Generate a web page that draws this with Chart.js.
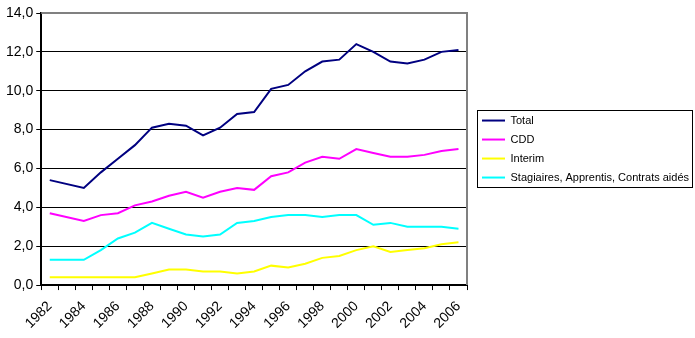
<!DOCTYPE html>
<html>
<head>
<meta charset="utf-8">
<script src="https://cdn.jsdelivr.net/npm/chart.js@4.4.1/dist/chart.umd.min.js"></script>
<style>
    html, body { margin: 0; padding: 0; background: #fff; }
    #wrap { width: 695px; height: 338px; }
</style>
</head>
<body>
<div id="wrap"><canvas id="chart"></canvas></div>
<script>
    "use strict";

    var years = ["1982", "1983", "1984", "1985", "1986", "1987", "1988", "1989", "1990",
        "1991", "1992", "1993", "1994", "1995", "1996", "1997", "1998", "1999", "2000",
        "2001", "2002", "2003", "2004", "2005", "2006"];

    // 1983 : pas de donnée, la courbe relie 1982 et 1984
    var total = [5.4, null, 5.0, 5.8, 6.5, 7.2, 8.1, 8.3, 8.2, 7.7, 8.1, 8.8, 8.9,
        10.1, 10.3, 11.0, 11.5, 11.6, 12.4, 12.0, 11.5, 11.4, 11.6, 12.0, 12.1];
    var cdd = [3.7, null, 3.3, 3.6, 3.7, 4.1, 4.3, 4.6, 4.8, 4.5, 4.8, 5.0, 4.9,
        5.6, 5.8, 6.3, 6.6, 6.5, 7.0, 6.8, 6.6, 6.6, 6.7, 6.9, 7.0];
    var interim = [0.4, null, 0.4, 0.4, 0.4, 0.4, 0.6, 0.8, 0.8, 0.7, 0.7, 0.6, 0.7,
        1.0, 0.9, 1.1, 1.4, 1.5, 1.8, 2.0, 1.7, 1.8, 1.9, 2.1, 2.2];
    var stagiaires = [1.3, null, 1.3, 1.8, 2.4, 2.7, 3.2, 2.9, 2.6, 2.5, 2.6, 3.2, 3.3,
        3.5, 3.6, 3.6, 3.5, 3.6, 3.6, 3.1, 3.2, 3.0, 3.0, 3.0, 2.9];

    var yTicks = [0, 2, 4, 6, 8, 10, 12, 14];

    var fontFamily = "'Liberation Sans', Arial, sans-serif";

    function serie(label, data, color) {
        return {
            label: label,
            data: data,
            borderColor: color,
            backgroundColor: color,
            borderWidth: 2,
            pointRadius: 0,
            tension: 0,
            spanGaps: true,
        };
    }

    // cadre gris du haut et de droite + cadre de la légende
    var cadres = {
        id: "cadres",
        afterDraw: function (chart) {
            var ctx = chart.ctx;
            var a = chart.chartArea;
            ctx.save();
            ctx.strokeStyle = "#808080";
            ctx.lineWidth = 2;
            ctx.beginPath();
            ctx.moveTo(a.left, a.top);
            ctx.lineTo(a.right, a.top);
            ctx.lineTo(a.right, a.bottom);
            ctx.stroke();

            var boxes = chart.legend.legendHitBoxes;
            if (boxes && boxes.length) {
                var first = boxes[0];
                var last = boxes[boxes.length - 1];
                ctx.strokeStyle = "#000";
                ctx.lineWidth = 1;
                var x0 = Math.round(first.left) - 4.5;
                var y0 = Math.round(first.top) - 4.5;
                var x1 = chart.width - 2.5;
                var y1 = Math.round(last.top + last.height) + 4.5;
                ctx.strokeRect(x0, y0, x1 - x0, y1 - y0);
            }
            ctx.restore();
        },
    };

    var ctx1 = document.getElementById("chart").getContext("2d");
    var myChart1 = new Chart(ctx1, {
        type: "line",
        data: {
            labels: years,
            datasets: [
                serie("Total", total, "#000080"),
                serie("CDD", cdd, "#ff00ff"),
                serie("Interim", interim, "#ffff00"),
                serie("Stagiaires, Apprentis, Contrats aidés", stagiaires, "#00ffff"),
            ],
        },
        options: {
            responsive: true,
            maintainAspectRatio: false,
            animation: false,
            layout: {
                padding: { left: 3, top: 13, right: 2, bottom: -2 },
            },
            plugins: {
                tooltip: { enabled: false },
                legend: {
                    position: "right",
                    align: "center",
                    fullSize: false,
                    maxWidth: 219,
                    labels: {
                        color: "#000",
                        font: { family: fontFamily, size: 11 },
                        boxWidth: 23,
                        boxHeight: 2,
                        padding: 8,
                        generateLabels: function (chart) {
                            return chart.data.datasets.map(function (ds, i) {
                                return {
                                    text: ds.label,
                                    fillStyle: ds.borderColor,
                                    strokeStyle: ds.borderColor,
                                    lineWidth: 0,
                                    hidden: false,
                                    datasetIndex: i,
                                };
                            });
                        },
                    },
                },
            },
            scales: {
                x: {
                    offset: true,
                    border: { color: "#000", width: 2 },
                    grid: {
                        display: true,
                        drawOnChartArea: false,
                        drawTicks: true,
                        tickLength: 5,
                        offset: true,
                        color: "#000",
                    },
                    ticks: {
                        autoSkip: false,
                        maxRotation: 45,
                        minRotation: 45,
                        padding: 9,
                        color: "#000",
                        font: { family: fontFamily, size: 14, lineHeight: 1 },
                        callback: function (value, index) {
                            return index % 2 === 0 ? years[index] : "";
                        },
                    },
                },
                y: {
                    min: 0,
                    max: 14,
                    afterBuildTicks: function (axis) {
                        axis.ticks = yTicks.map(function (v) {
                            return { value: v };
                        });
                    },
                    border: { color: "#000", width: 2 },
                    grid: {
                        color: "#000",
                        lineWidth: 1,
                        tickLength: 5,
                    },
                    ticks: {
                        padding: 3,
                        color: "#000",
                        font: { family: fontFamily, size: 14 },
                        callback: function (value) {
                            return value.toFixed(1).replace(".", ",");
                        },
                    },
                },
                // axe vide à droite : juste l'espace entre le graphique et la légende
                y2: {
                    position: "right",
                    display: true,
                    grid: { display: false },
                    border: { display: false },
                    ticks: { display: false },
                    afterFit: function (axis) {
                        axis.width = 7;
                    },
                },
            },
        },
        plugins: [cadres],
    });
</script>
</body>
</html>
